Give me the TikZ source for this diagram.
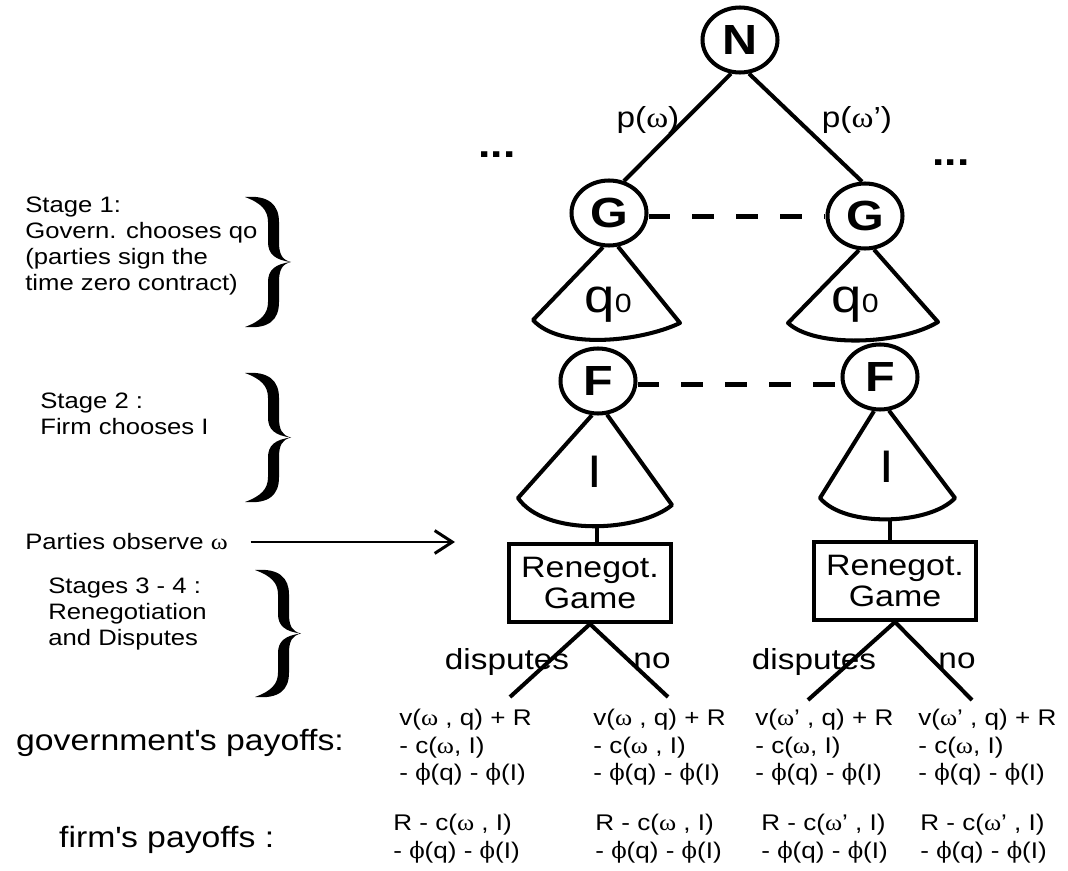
\documentclass[tikz,border=0pt]{standalone}
\usepackage{fontspec}
\setmainfont[FakeStretch=1.15]{Liberation Sans}
\newfontfamily\grkfont[FakeStretch=1.15]{Liberation Serif}
\newfontfamily\phifont{DejaVu Serif}
\usetikzlibrary{shapes.geometric,arrows.meta}

\newcommand{\om}{{\grkfont ω}}
\newcommand{\ph}{{\phifont ϕ}}

% curly brace in front of a stage
\newcommand{\stagebrace}[3]{%
  \begin{scope}[shift={(#1,#2)},yscale=#3/130]
    \fill (0,0) .. controls (24,-2) and (34,8) .. (34,25) -- (34,45)
      .. controls (34,57) and (37,63) .. (46,65)
      .. controls (37,67) and (34,73) .. (34,85) -- (34,105)
      .. controls (34,123) and (24,132) .. (0,130)
      .. controls (16,124) and (23,117) .. (23,105) -- (23,85)
      .. controls (23,73) and (30,67) .. (46,65)
      .. controls (30,63) and (23,57) .. (23,45) -- (23,25)
      .. controls (23,13) and (16,6) .. (0,0) -- cycle;
  \end{scope}}

\begin{document}
\begin{tikzpicture}[x=0.02cm,y=-0.02cm,
   player/.style={ellipse,draw,line width=2.3pt,minimum width=1.5cm,
    minimum height=1.3cm,inner sep=0pt,font=\fontsize{24}{24}\selectfont\bfseries},
   game/.style={rectangle,draw,line width=2.3pt,minimum width=3.24cm,
    minimum height=1.56cm,align=center,font=\fontsize{16.8}{18}\selectfont},
   edge/.style={line width=2.3pt},
   info/.style={line width=2.3pt,dash pattern=on 12.5pt off 12.5pt},
   payoff/.style={anchor=north west,inner sep=0pt,align=left,
    font=\fontsize{12.9}{15.5}\selectfont},
   stage/.style={anchor=north west,inner sep=0pt,align=left,
    font=\fontsize{12.7}{14.8}\selectfont},
   lbl/.style={font=\fontsize{16.5}{16.5}\selectfont}
    ]
  \useasboundingbox (0,0) rectangle (1068,871);

  % -- players
  \node[player] at (740,40) (N) {N};
  \node[player] at (609,213) (G1) {G};
  \node[player] at (865,216) (G2) {G};
  \node[player] at (598,381) (F1) {F};
  \node[player] at (880,377) (F2) {F};
  \node[game] at (590,583) (R1) {Renegot.\\Game};
  \node[game] at (895,581) (R2) {Renegot.\\Game};

  % -- nature
  \draw[edge] (N.-105) -- (G1.65);
  \draw[edge] (N.-75) -- (G2.95);
  \node[lbl] at (648,120) (pw1) {p(\om)};
  \node[lbl] at (857,120) (pw2) {p(\om’)};
  \node[font=\fontsize{22}{22}\selectfont\bfseries] at (497,155) (dots1) {...};
  \node[font=\fontsize{22}{22}\selectfont\bfseries] at (951,163) (dots2) {...};

  % -- information sets
  \draw[info] ([yshift=-2pt]G1.east) -- ([yshift=-2pt]G1.east -| G2.west);
  \draw[info] ([yshift=-2pt]F1.east) -- ([yshift=-2pt]F1.east -| F2.west);

  % -- choice cones
  \draw[edge,line join=round] (G1.-100) -- (533,320)
    .. controls (560,350) and (640,342) .. (680,323) -- (G1.-75);
  \draw[edge,line join=round] (G2.-100) -- (788,323)
    .. controls (815,348) and (900,345) .. (938,322) -- (G2.-75);
  \draw[edge,line join=round] (F1.-100) -- (518,498)
    .. controls (545,537) and (640,532) .. (672,505) -- (F1.-75);
  \draw[edge,line join=round] (F2.-100) -- (820,498)
    .. controls (845,528) and (930,525) .. (955,498) -- (F2.-75);
  \node[font=\fontsize{27}{27}\selectfont] at (608,305) (q1) {q{\fontsize{15}{15}\selectfont 0}};
  \node[font=\fontsize{27}{27}\selectfont] at (855,305) (q2) {q{\fontsize{15}{15}\selectfont 0}};
  \node[font=\fontsize{26}{26}\selectfont] at (595,472) (I1) {I};
  \node[font=\fontsize{26}{26}\selectfont] at (887,467) (I2) {I};

  \coordinate (I1b) at (597,527);
  \coordinate (I2b) at (890,520);
  \draw[edge] (I1b) -- (I1b |- R1.north);
  \draw[edge] (I2b) -- (I2b |- R2.north);

  % -- renegotiation branches
  \coordinate (d1) at (510,697);
  \coordinate (n1) at (668,697);
  \coordinate (d2) at (808,700);
  \coordinate (n2) at (972,700);
  \draw[edge] (R1.south) -- (d1);
  \draw[edge] (R1.south) -- (n1);
  \draw[edge] (R2.south) -- (d2);
  \draw[edge] (R2.south) -- (n2);
  \node[lbl,anchor=base] at (507,669) (disp1) {disputes};
  \node[lbl,anchor=base] at (652,668) (no1) {no};
  \node[lbl,anchor=base] at (814,669) (disp2) {disputes};
  \node[lbl,anchor=base] at (957,668) (no2) {no};

  % -- payoffs
  \node[payoff] at (399,709) (gp1) {v(\om{} , q) + R\\- c(\om, I)\\- \ph(q) - \ph(I)};
  \node[payoff] at (593,709) (gp2) {v(\om{} , q) + R\\- c(\om{} , I)\\- \ph(q) - \ph(I)};
  \node[payoff] at (755,709) (gp3) {v(\om’ , q) + R\\- c(\om, I)\\- \ph(q) - \ph(I)};
  \node[payoff] at (918,709) (gp4) {v(\om’ , q) + R\\- c(\om, I)\\- \ph(q) - \ph(I)};
  \node[payoff] at (393,814) (fp1) {R - c(\om{} , I)\\- \ph(q) - \ph(I)};
  \node[payoff] at (595,814) (fp2) {R - c(\om{} , I)\\- \ph(q) - \ph(I)};
  \node[payoff] at (761,814) (fp3) {R - c(\om’ , I)\\- \ph(q) - \ph(I)};
  \node[payoff] at (920,814) (fp4) {R - c(\om’ , I)\\- \ph(q) - \ph(I)};

  % -- stages on the left
  \node[stage] at (25,197) (s1) {Stage 1:\\Govern. chooses qo\\(parties sign the\\time zero contract)};
  \node[stage] at (40,393) (s2) {Stage 2 :\\Firm chooses I};
  \node[stage] at (48,578) (s3) {Stages 3 - 4 :\\Renegotiation\\and Disputes};
  \node[stage,anchor=west] at (25,542) (obs) {Parties observe \om};
  \draw[-{Straight Barb[length=10pt,width=13pt]},line width=1.7pt]
    ([xshift=0.45cm]obs.east) -- (obs.east -| 455,0);
  \stagebrace{245}{197}{130}
  \stagebrace{245}{373}{129}
  \stagebrace{255}{570}{127}

  \node[anchor=base west,font=\fontsize{16.7}{16.7}\selectfont] at (10,750) (gov)
    {government\textquotesingle s payoffs:};
  \node[anchor=base west,font=\fontsize{16.7}{16.7}\selectfont] at (53,847) (firm)
    {firm\textquotesingle s payoffs :};

\end{tikzpicture}
\end{document}
